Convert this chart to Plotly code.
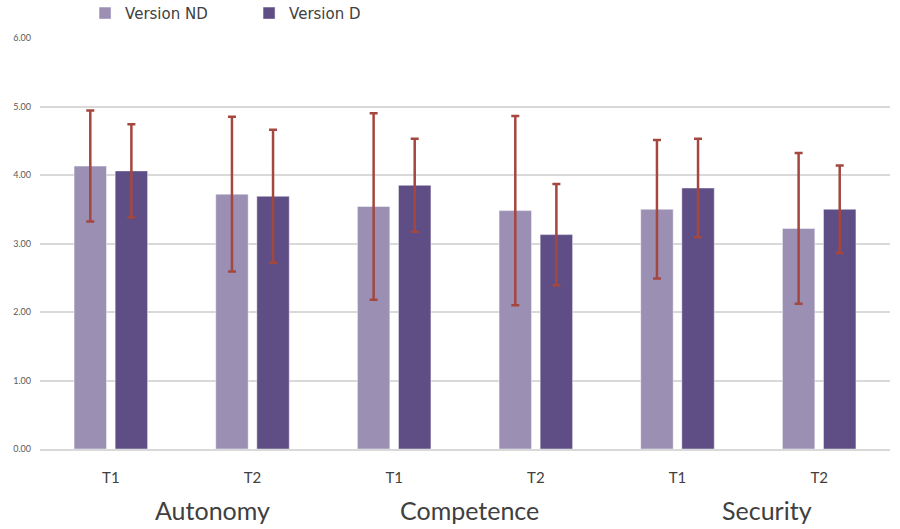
import plotly.graph_objects as go

groups = ["Autonomy", "Competence", "Security"]
times = ["T1", "T2"]
categories = [f"{g} {t}" for g in groups for t in times]
tick_labels = [t for g in groups for t in times]

nd_mean = [4.13, 3.72, 3.54, 3.48, 3.50, 3.22]
nd_sd = [0.81, 1.13, 1.36, 1.38, 1.01, 1.10]
d_mean = [4.06, 3.69, 3.85, 3.13, 3.81, 3.50]
d_sd = [0.68, 0.97, 0.68, 0.74, 0.72, 0.64]

y_ticks = [0, 1, 2, 3, 4, 5, 6]

ND_COLOR = "#9C8FB4"
D_COLOR = "#5F4E85"
ERR_COLOR = "#A3473F"

fig = go.Figure()
fig.add_trace(go.Bar(
    name="Version ND", x=categories, y=nd_mean,
    marker=dict(color=ND_COLOR, line=dict(color="rgba(255,255,255,0.45)", width=1)),
    error_y=dict(type="data", array=nd_sd, visible=True, color=ERR_COLOR, thickness=2.5, width=4),
))
fig.add_trace(go.Bar(
    name="Version D", x=categories, y=d_mean,
    marker=dict(color=D_COLOR, line=dict(color="rgba(255,255,255,0.45)", width=1)),
    error_y=dict(type="data", array=d_sd, visible=True, color=ERR_COLOR, thickness=2.5, width=4),
))

group_label_pos = [0.72, 2.53, 4.63]
for g, xp in zip(groups, group_label_pos):
    fig.add_annotation(x=xp, y=-0.148, xref="x", yref="paper", text=g, showarrow=False,
                       font=dict(family="Lato", size=25, color="#404040"),
                       xanchor="center", yanchor="middle")

fig.update_layout(
    width=900, height=529,
    margin=dict(l=40, r=10, t=38, b=80, autoexpand=False),
    paper_bgcolor="white", plot_bgcolor="white",
    barmode="group", bargap=0.42, bargroupgap=0.21,
    showlegend=True,
    legend=dict(orientation="h", x=0.053, y=1.06, xanchor="left", yanchor="middle",
                font=dict(family="DejaVu Sans", size=15, color="#404040"),
                entrywidth=119, entrywidthmode="pixels", bgcolor="rgba(0,0,0,0)"),
    xaxis=dict(tickmode="array", tickvals=categories, ticktext=tick_labels,
               tickfont=dict(family="Lato", size=15, color="#404040"),
               showline=True, linecolor="#D9D9D9", linewidth=1.5, showgrid=False,
               ticks="", ticklabelstandoff=14),
    yaxis=dict(range=[0, 6], tickvals=y_ticks, tickformat=".2f",
               tickfont=dict(family="Lato", size=9, color="#595959"),
               showgrid=True, gridcolor="#D9D9D9", gridwidth=1.5,
               zeroline=False, showline=False, ticks="", ticklabelstandoff=8),
)

fig.write_html("out.html", config={"displayModeBar": False},
               post_script="document.body.style.margin='0';")
